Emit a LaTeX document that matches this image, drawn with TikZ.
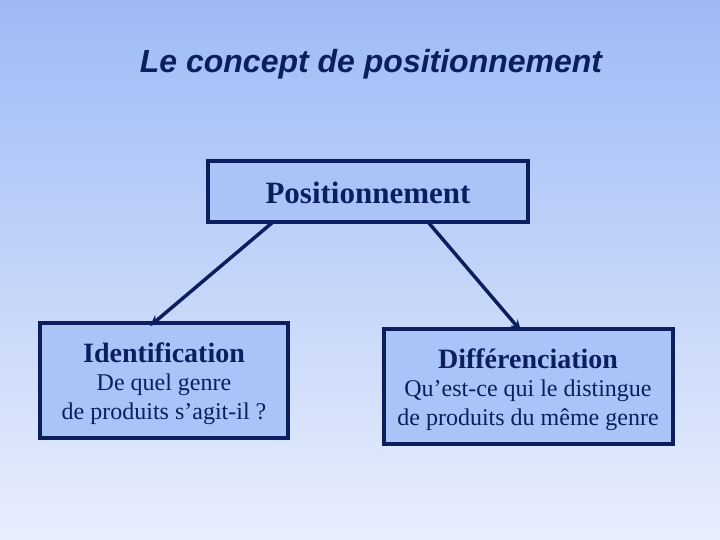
\documentclass[tikz,border=0pt]{standalone}
\usepackage{fontspec}
\usetikzlibrary{arrows.meta}
\setmainfont{Liberation Serif}
\newfontfamily\titlefont{Liberation Sans}
\begin{document}
\begin{tikzpicture}[x=1pt,y=-1pt,
  box/.style={draw=navy,line width=3.2pt,fill=boxblue,inner sep=0pt},
  arr/.style={draw=navy,line width=3.5pt,-{Stealth[length=11pt,width=10pt]}},
  txt/.style={text=navy,inner sep=0pt,align=center}]
\definecolor{navy}{HTML}{0B1F5E}
\definecolor{boxblue}{HTML}{AAC4F8}
\definecolor{bgtop}{HTML}{9EBAF6}
\definecolor{bgbot}{HTML}{E8EEFC}
\useasboundingbox (0,0) rectangle (720,540);
\shade[top color=bgtop,bottom color=bgbot] (0,0) rectangle (720,540);
\node[txt,font={\titlefont\bfseries\itshape\fontsize{32}{36}\selectfont}] (title) at (371,64) {Le concept de positionnement};
\path[box] (208,161) rectangle (528,222);
\node[txt,font={\fontsize{31}{34}\selectfont\bfseries}] (pos) at (368,193) {Positionnement};
\coordinate (posL) at (273,222);
\coordinate (posR) at (428,222);
\path[box] (40,323) rectangle (288,438);
\coordinate (idT) at (150,326);
\node[txt,font={\fontsize{28}{30}\selectfont\bfseries}] (id) at (164,353) {Identification};
\node[txt,font={\fontsize{24}{29}\selectfont}] (idd) at (164,399) {De quel genre\\de produits s’agit-il ?};
\path[box] (384,329) rectangle (673,444);
\coordinate (diT) at (521,331);
\node[txt,font={\fontsize{28}{30}\selectfont\bfseries}] (di) at (528,359) {Différenciation};
\node[txt,font={\fontsize{24}{29}\selectfont}] (did) at (528,405) {Qu’est-ce qui le distingue\\de produits du même genre};
\draw[arr] (posL) -- (idT);
\draw[arr] (posR) -- (diT);
\end{tikzpicture}
\end{document}
